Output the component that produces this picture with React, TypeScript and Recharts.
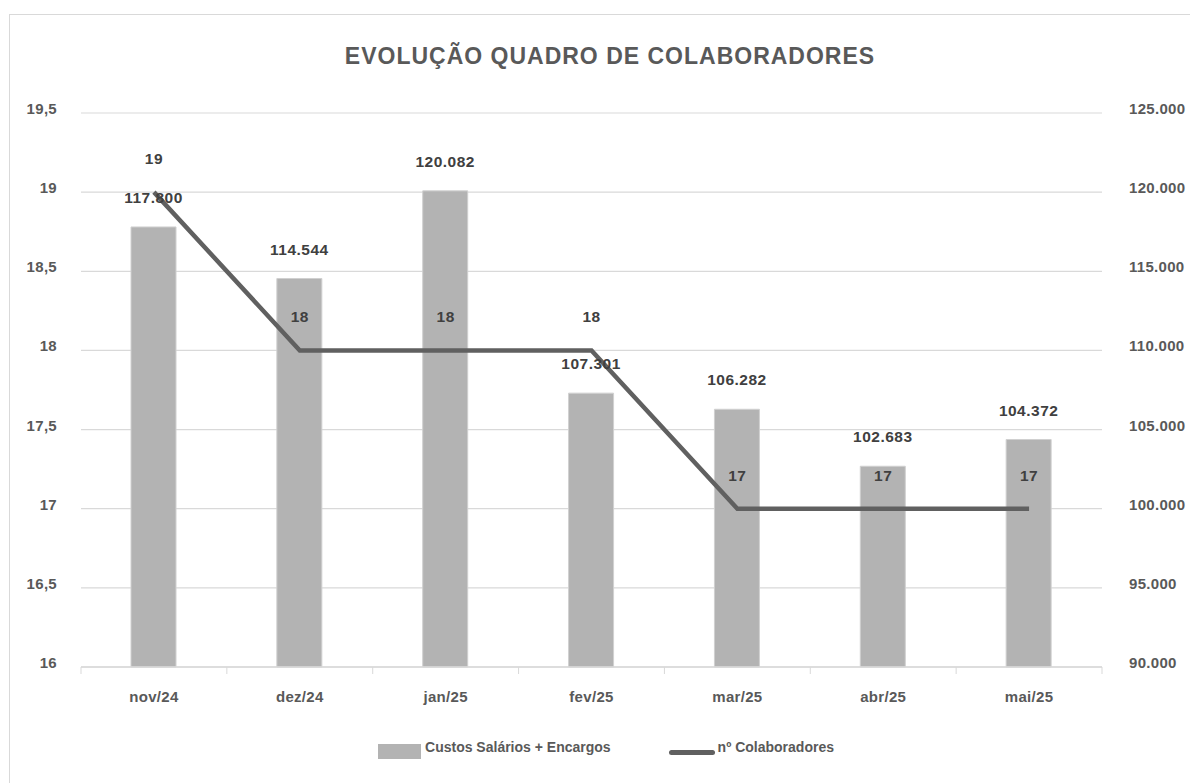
import React from 'react';
import {
  ComposedChart,
  Bar,
  Line,
  XAxis,
  YAxis,
  CartesianGrid,
  LabelList,
} from 'recharts';

const months = ['nov/24', 'dez/24', 'jan/25', 'fev/25', 'mar/25', 'abr/25', 'mai/25'];
const custos = [117800, 114544, 120082, 107301, 106282, 102683, 104372];
const colaboradores = [19, 18, 18, 18, 17, 17, 17];
const leftTicks = [16, 16.5, 17, 17.5, 18, 18.5, 19, 19.5];
const rightTicks = [90000, 95000, 100000, 105000, 110000, 115000, 120000, 125000];

const barName = 'Custos Salários + Encargos';
const lineName = 'nº Colaboradores';
const title = 'EVOLUÇÃO QUADRO DE COLABORADORES';

const data = months.map((m, i) => ({ month: m, custos: custos[i], colab: colaboradores[i] }));

const FONT = '"Liberation Sans", Arial, Helvetica, sans-serif';
const TXT = '#595959';
const LBL = '#404040';
const GRID = '#d9d9d9';

const fmtThousands = (v: number) => {
  const s = Math.round(v).toString();
  return s.replace(/\B(?=(\d{3})+(?!\d))/g, '.');
};
const fmtDecimal = (v: number) => String(v).replace('.', ',');

const LeftTick = (props: any) => {
  const { x, y, payload } = props;
  return (
    <text x={x} y={y + 1} textAnchor="end" fill={TXT} fontSize={15} fontWeight="bold" fontFamily={FONT} letterSpacing={0.3}>
      {fmtDecimal(payload.value)}
    </text>
  );
};

const RightTick = (props: any) => {
  const { x, y, payload } = props;
  return (
    <text x={x} y={y + 1} textAnchor="start" fill={TXT} fontSize={15} fontWeight="bold" fontFamily={FONT} letterSpacing={0.3}>
      {fmtThousands(payload.value)}
    </text>
  );
};

const XTick = (props: any) => {
  const { x, y, payload, index, visibleTicksCount } = props;
  const half = payload && payload.offset ? payload.offset : 0;
  const isLast = index === (visibleTicksCount ?? months.length) - 1;
  return (
    <g>
      <line x1={x - half} x2={x - half} y1={y} y2={y + 7} stroke={GRID} strokeWidth={1} />
      {isLast && <line x1={x + half} x2={x + half} y1={y} y2={y + 7} stroke={GRID} strokeWidth={1} />}
      <text x={x} y={y + 35} textAnchor="middle" fill={TXT} fontSize={15} fontWeight="bold" fontFamily={FONT} letterSpacing={0.3}>
        {payload.value}
      </text>
    </g>
  );
};

export default function App() {
  return (
    <div style={{ position: 'relative', width: 1190, height: 775, overflow: 'hidden', background: '#fff' }}>
      <div
        style={{
          position: 'absolute',
          left: 1,
          top: 6,
          width: 1400,
          height: 1000,
          border: `1px solid ${GRID}`,
          boxSizing: 'border-box',
        }}
      />
      <div
        style={{
          position: 'absolute',
          left: 0,
          top: 33,
          width: 1204,
          lineHeight: '30px',
          textAlign: 'center',
          fontFamily: FONT,
          fontWeight: 'bold',
          fontSize: 23,
          letterSpacing: 1,
          color: TXT,
        }}
      >
        {title}
      </div>
      <div style={{ position: 'absolute', left: 0, top: 0 }}>
        <ComposedChart
          width={1190}
          height={775}
          data={data}
          margin={{ top: 105, right: 0, bottom: 76, left: 0 }}
          barCategoryGap={0}
        >
          <CartesianGrid vertical={false} stroke={GRID} strokeWidth={1.2} yAxisId="left" />
          <XAxis
            dataKey="month"
            height={40}
            tickLine={false}
            tickSize={0}
            tickMargin={0}
            axisLine={{ stroke: GRID, strokeWidth: 1.5 }}
            tick={<XTick />}
            interval={0}
          />
          <YAxis
            yAxisId="left"
            orientation="left"
            width={73}
            domain={[16, 19.5]}
            ticks={leftTicks}
            axisLine={false}
            tickLine={false}
            tickSize={0}
            tickMargin={24}
            tick={<LeftTick />}
            interval={0}
          />
          <YAxis
            yAxisId="right"
            orientation="right"
            width={96}
            domain={[90000, 125000]}
            ticks={rightTicks}
            axisLine={false}
            tickLine={false}
            tickSize={0}
            tickMargin={27}
            tick={<RightTick />}
            interval={0}
          />
          <Bar
            yAxisId="right"
            dataKey="custos"
            name={barName}
            fill="#b3b3b3"
            stroke="#d0d0d0"
            strokeWidth={1}
            barSize={45}
            isAnimationActive={false}
          >
            <LabelList
              dataKey="custos"
              position="top"
              offset={24}
              formatter={(v: any) => fmtThousands(Number(v))}
              fill={LBL}
              fontSize={15.5}
              fontWeight="bold"
              fontFamily={FONT}
              letterSpacing={0.5}
            />
          </Bar>
          <Line
            yAxisId="left"
            dataKey="colab"
            name={lineName}
            stroke="#606060"
            strokeWidth={4.5}
            dot={false}
            activeDot={false}
            type="linear"
            isAnimationActive={false}
          >
            <LabelList
              dataKey="colab"
              position="top"
              offset={28}
              fill={LBL}
              fontSize={15.5}
              fontWeight="bold"
              fontFamily={FONT}
              letterSpacing={0.5}
            />
          </Line>
        </ComposedChart>
      </div>
      <div
        style={{
          position: 'absolute',
          left: 0,
          top: 729,
          width: 1196,
          height: 20,
          display: 'flex',
          justifyContent: 'center',
          alignItems: 'center',
          fontFamily: FONT,
          fontWeight: 'bold',
          fontSize: 14,
          color: TXT,
          lineHeight: '20px',
          whiteSpace: 'nowrap',
        }}
      >
        <span style={{ display: 'inline-block', width: 43, height: 15, background: '#b3b3b3', marginTop: 8 }} />
        <span style={{ marginLeft: 4 }}>{barName}</span>
        <span
          style={{
            display: 'inline-block',
            width: 46,
            height: 5,
            borderRadius: 3,
            background: '#606060',
            marginLeft: 58,
            marginTop: 10,
          }}
        />
        <span style={{ marginLeft: 3 }}>{lineName}</span>
      </div>
    </div>
  );
}
